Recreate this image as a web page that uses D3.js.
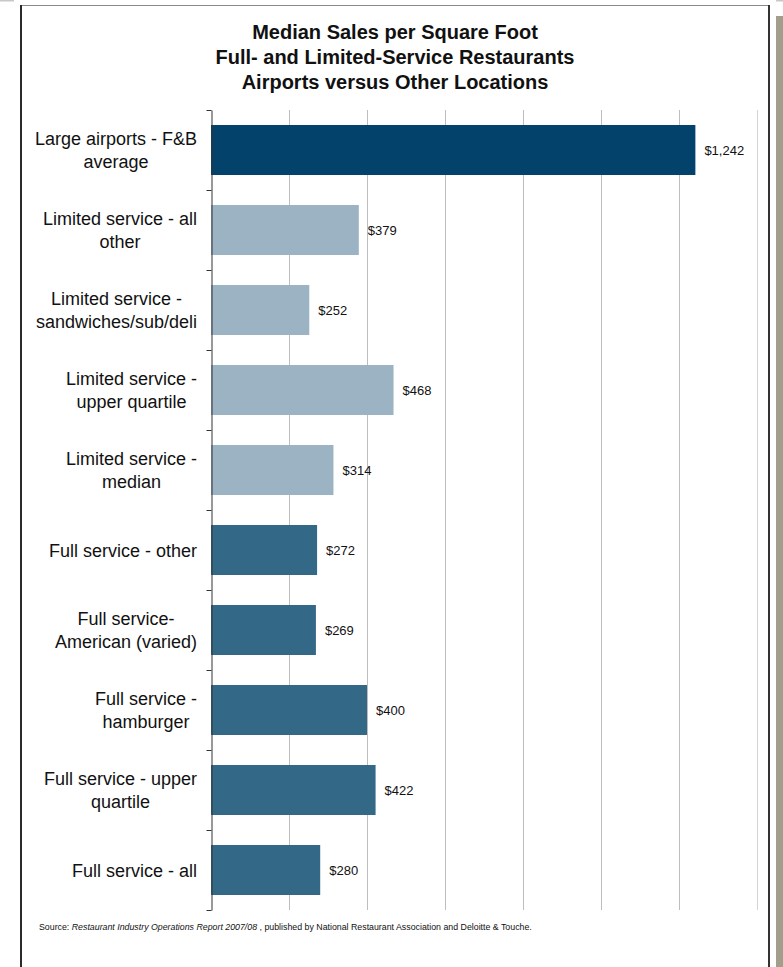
<!DOCTYPE html>
<html>
<head>
<meta charset="utf-8">
<script src="https://cdn.jsdelivr.net/npm/d3@7"></script>
<style>
  html, body { margin: 0; padding: 0; background: #fff; }
  svg { display: block; }
  text { font-family: "Liberation Sans", Arial, sans-serif; fill: #111; }
</style>
</head>
<body>
<svg id="chart" width="783" height="967"></svg>
<script>
// ---- data ----
const categories = [
  ["Large airports - F&B", "average"],
  ["Limited service - all", "other"],
  ["Limited service -", "sandwiches/sub/deli"],
  ["Limited service -", "upper quartile"],
  ["Limited service -", "median"],
  ["Full service - other"],
  ["Full service-", "American (varied)"],
  ["Full service -", "hamburger"],
  ["Full service - upper", "quartile"],
  ["Full service - all"]
];
const values = [1242, 379, 252, 468, 314, 272, 269, 400, 422, 280];
const groups = ["airport", "limited", "limited", "limited", "limited", "full", "full", "full", "full", "full"];
const groupColors = { airport: "#03426B", limited: "#9CB3C3", full: "#346887" };
const xTicks = [0, 200, 400, 600, 800, 1000, 1200, 1400];
const titleLines = [
  "Median Sales per Square Foot",
  "Full- and Limited-Service Restaurants",
  "Airports versus Other Locations"
];

// ---- layout ----
const svg = d3.select("#chart");
const plot = { left: 211, right: 757, top: 110, bottom: 910 };

// frame
svg.append("rect").attr("x", 0).attr("y", 0).attr("width", 14).attr("height", 1.5).attr("fill", "#c8c8c8");
svg.append("rect").attr("x", 776).attr("y", 0).attr("width", 7).attr("height", 1.5).attr("fill", "#c8c8c8");
svg.append("rect").attr("x", 776).attr("y", 16).attr("width", 7).attr("height", 951).attr("fill", "#a19f8c");
svg.append("line").attr("x1", 20).attr("x2", 770).attr("y1", 5.5).attr("y2", 5.5).attr("stroke", "#8a8a8a").attr("stroke-width", 1);
svg.append("rect").attr("x", 20).attr("y", 5).attr("width", 2).attr("height", 962).attr("fill", "#2a2a2a");
svg.append("rect").attr("x", 768).attr("y", 5).attr("width", 2).attr("height", 962).attr("fill", "#333");

// title
svg.append("g").selectAll("text").data(titleLines).join("text")
  .attr("x", 395).attr("y", (d, i) => 39 + i * 25)
  .attr("text-anchor", "middle")
  .style("font-size", "20px").style("font-weight", "bold")
  .text(d => d);

// scales
const x = d3.scaleLinear().domain([0, 1400]).range([plot.left, plot.right]);
const y = d3.scaleBand().domain(d3.range(values.length)).range([plot.top, plot.bottom]).paddingInner(0.375).paddingOuter(0.1875);

// gridlines
svg.append("g").selectAll("line").data(xTicks.slice(1)).join("line")
  .attr("x1", d => Math.round(x(d)) + 0.5).attr("x2", d => Math.round(x(d)) + 0.5)
  .attr("y1", plot.top).attr("y2", plot.bottom)
  .attr("stroke", d => d === 1400 ? "#d4d4d4" : "#bdbdbd").attr("stroke-width", 1);

// bars
svg.append("g").selectAll("rect").data(values).join("rect")
  .attr("x", x(0)).attr("y", (d, i) => y(i))
  .attr("width", d => x(d) - x(0)).attr("height", y.bandwidth())
  .attr("fill", (d, i) => groupColors[groups[i]]);

// value labels
svg.append("g").selectAll("text").data(values).join("text")
  .attr("x", d => x(d) + 9).attr("y", (d, i) => y(i) + y.bandwidth() / 2 + 4.5)
  .style("font-size", "13px")
  .text(d => "$" + d3.format(",")(d));

// axis with ticks at band boundaries
const yb = d3.scaleLinear().domain([0, values.length]).range([plot.top, plot.bottom]);
const axis = d3.axisLeft(yb).tickValues(d3.range(values.length + 1)).tickSize(5).tickSizeOuter(0).tickFormat("");
const ax = svg.append("g").attr("transform", `translate(${plot.left + 0.5},0)`).call(axis);
ax.selectAll("path, line").attr("stroke", "#333");

// category labels
const labelG = svg.append("g");
categories.forEach((lines, i) => {
  const cy = y(i) + y.bandwidth() / 2;
  const g = labelG.append("g");
  const texts = lines.map((ln, j) => g.append("text")
    .attr("y", cy + 6.5 + (j - (lines.length - 1) / 2) * 23)
    .style("font-size", "18px")
    .attr("text-anchor", "middle")
    .text(ln));
  const maxW = d3.max(texts, t => t.node().getComputedTextLength());
  texts.forEach(t => t.attr("x", 197 - maxW / 2));
});

// source
const src = svg.append("text").attr("x", 39).attr("y", 930).style("font-size", "8.8px");
src.append("tspan").text("Source:  ");
src.append("tspan").style("font-style", "italic").text("Restaurant Industry Operations Report 2007/08");
src.append("tspan").text(" , published by National Restaurant Association and Deloitte & Touche.");
</script>
</body>
</html>
